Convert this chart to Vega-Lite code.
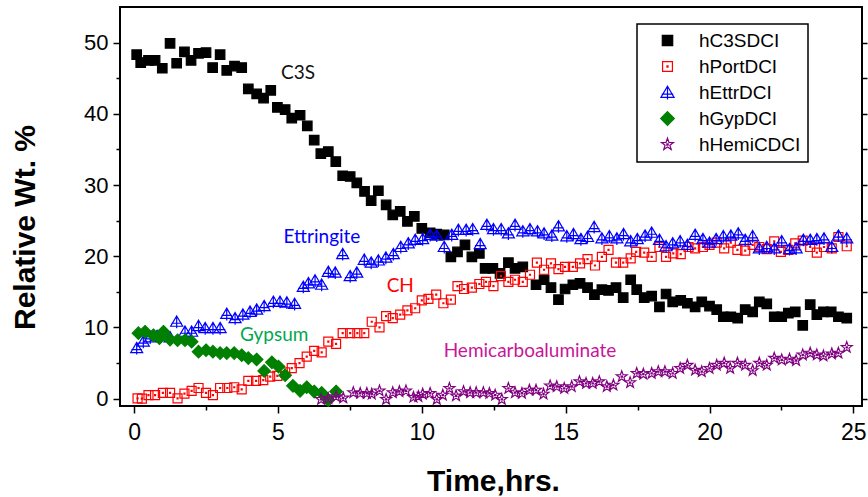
{
  "$schema": "https://vega.github.io/schema/vega-lite/v6.json",
  "width": 742,
  "height": 399,
  "autosize": {"type": "none"},
  "padding": {"left": 120, "top": 7, "right": 6, "bottom": 91},
  "background": "white",
  "config": {
    "view": {"stroke": "#000", "strokeWidth": 2},
    "font": "Liberation Sans",
    "axis": {"domain": false, "grid": false, "tickColor": "#000", "tickWidth": 1.5, "labelColor": "#000", "titleColor": "#000", "labelFont": "Liberation Sans", "titleFont": "Liberation Sans"},
    "legend": {"strokeWidth": 1.5}
  },
  "resolve": {"axis": {"y": "independent"}},
  "layer": [
    {
      "data": {"values": [
        {"series":"hC3SDCI","time":0.09,"wt":48.3},{"series":"hC3SDCI","time":0.23,"wt":47.2},{"series":"hC3SDCI","time":0.5,"wt":47.5},{"series":"hC3SDCI","time":0.73,"wt":47.5},{"series":"hC3SDCI","time":0.98,"wt":46.4},{"series":"hC3SDCI","time":1.25,"wt":49.9},{"series":"hC3SDCI","time":1.48,"wt":47.1},{"series":"hC3SDCI","time":1.75,"wt":48.7},{"series":"hC3SDCI","time":1.98,"wt":47.5},{"series":"hC3SDCI","time":2.24,"wt":48.5},{"series":"hC3SDCI","time":2.5,"wt":48.6},{"series":"hC3SDCI","time":2.73,"wt":46.5},{"series":"hC3SDCI","time":2.99,"wt":48.3},{"series":"hC3SDCI","time":3.22,"wt":46.1},{"series":"hC3SDCI","time":3.49,"wt":46.7},{"series":"hC3SDCI","time":3.74,"wt":46.5},{"series":"hC3SDCI","time":3.97,"wt":43.5},{"series":"hC3SDCI","time":4.26,"wt":42.8},{"series":"hC3SDCI","time":4.5,"wt":42.2},{"series":"hC3SDCI","time":4.75,"wt":43.3},{"series":"hC3SDCI","time":4.98,"wt":40.9},{"series":"hC3SDCI","time":5.25,"wt":40.6},{"series":"hC3SDCI","time":5.48,"wt":39.4},{"series":"hC3SDCI","time":5.77,"wt":39.8},{"series":"hC3SDCI","time":6.02,"wt":38.3},{"series":"hC3SDCI","time":6.26,"wt":36.3},{"series":"hC3SDCI","time":6.49,"wt":34.4},{"series":"hC3SDCI","time":6.75,"wt":34.7},{"series":"hC3SDCI","time":7.01,"wt":33.3},{"series":"hC3SDCI","time":7.25,"wt":31.3},{"series":"hC3SDCI","time":7.51,"wt":31.2},{"series":"hC3SDCI","time":7.74,"wt":30.3},{"series":"hC3SDCI","time":8.01,"wt":29.1},{"series":"hC3SDCI","time":8.24,"wt":27.8},{"series":"hC3SDCI","time":8.49,"wt":29.2},{"series":"hC3SDCI","time":8.76,"wt":27.2},{"series":"hC3SDCI","time":8.99,"wt":25.8},{"series":"hC3SDCI","time":9.25,"wt":26.3},{"series":"hC3SDCI","time":9.5,"wt":24.9},{"series":"hC3SDCI","time":9.74,"wt":25.6},{"series":"hC3SDCI","time":10.0,"wt":23.9},{"series":"hC3SDCI","time":10.29,"wt":23.3},{"series":"hC3SDCI","time":10.52,"wt":23.1},{"series":"hC3SDCI","time":10.78,"wt":23.0},{"series":"hC3SDCI","time":11.01,"wt":19.9},{"series":"hC3SDCI","time":11.24,"wt":20.6},{"series":"hC3SDCI","time":11.5,"wt":21.6},{"series":"hC3SDCI","time":11.74,"wt":19.9},{"series":"hC3SDCI","time":12.0,"wt":20.4},{"series":"hC3SDCI","time":12.2,"wt":18.3},{"series":"hC3SDCI","time":12.47,"wt":18.3},{"series":"hC3SDCI","time":12.72,"wt":17.6},{"series":"hC3SDCI","time":13.01,"wt":19.1},{"series":"hC3SDCI","time":13.24,"wt":18.3},{"series":"hC3SDCI","time":13.51,"wt":18.5},{"series":"hC3SDCI","time":13.97,"wt":16.0},{"series":"hC3SDCI","time":14.25,"wt":16.7},{"series":"hC3SDCI","time":14.49,"wt":15.6},{"series":"hC3SDCI","time":14.75,"wt":13.9},{"series":"hC3SDCI","time":14.98,"wt":15.4},{"series":"hC3SDCI","time":15.25,"wt":16.0},{"series":"hC3SDCI","time":15.5,"wt":16.2},{"series":"hC3SDCI","time":15.76,"wt":15.6},{"series":"hC3SDCI","time":16.0,"wt":14.6},{"series":"hC3SDCI","time":16.26,"wt":15.3},{"series":"hC3SDCI","time":16.49,"wt":15.2},{"series":"hC3SDCI","time":16.75,"wt":15.6},{"series":"hC3SDCI","time":17.0,"wt":14.2},{"series":"hC3SDCI","time":17.26,"wt":16.7},{"series":"hC3SDCI","time":17.47,"wt":15.3},{"series":"hC3SDCI","time":17.73,"wt":14.2},{"series":"hC3SDCI","time":17.99,"wt":14.4},{"series":"hC3SDCI","time":18.26,"wt":12.9},{"series":"hC3SDCI","time":18.49,"wt":14.7},{"series":"hC3SDCI","time":18.72,"wt":13.6},{"series":"hC3SDCI","time":19.0,"wt":13.8},{"series":"hC3SDCI","time":19.23,"wt":13.4},{"series":"hC3SDCI","time":19.5,"wt":12.9},{"series":"hC3SDCI","time":19.73,"wt":13.6},{"series":"hC3SDCI","time":20.0,"wt":13.0},{"series":"hC3SDCI","time":20.25,"wt":12.5},{"series":"hC3SDCI","time":20.48,"wt":11.5},{"series":"hC3SDCI","time":20.74,"wt":11.5},{"series":"hC3SDCI","time":20.98,"wt":11.3},{"series":"hC3SDCI","time":21.24,"wt":12.5},{"series":"hC3SDCI","time":21.5,"wt":12.2},{"series":"hC3SDCI","time":21.73,"wt":13.6},{"series":"hC3SDCI","time":21.99,"wt":13.3},{"series":"hC3SDCI","time":22.25,"wt":11.5},{"series":"hC3SDCI","time":22.51,"wt":11.5},{"series":"hC3SDCI","time":22.74,"wt":12.0},{"series":"hC3SDCI","time":22.98,"wt":12.2},{"series":"hC3SDCI","time":23.24,"wt":10.3},{"series":"hC3SDCI","time":23.5,"wt":13.2},{"series":"hC3SDCI","time":23.73,"wt":11.8},{"series":"hC3SDCI","time":23.96,"wt":12.2},{"series":"hC3SDCI","time":24.23,"wt":12.2},{"series":"hC3SDCI","time":24.48,"wt":11.5},{"series":"hC3SDCI","time":24.77,"wt":11.3},
        {"series":"hPortDCI","time":0.12,"wt":0.05},{"series":"hPortDCI","time":0.27,"wt":0.0},{"series":"hPortDCI","time":0.5,"wt":0.5},{"series":"hPortDCI","time":0.73,"wt":0.5},{"series":"hPortDCI","time":1.0,"wt":0.8},{"series":"hPortDCI","time":1.25,"wt":0.8},{"series":"hPortDCI","time":1.51,"wt":0.05},{"series":"hPortDCI","time":1.75,"wt":0.7},{"series":"hPortDCI","time":2.0,"wt":1.1},{"series":"hPortDCI","time":2.24,"wt":1.5},{"series":"hPortDCI","time":2.5,"wt":0.8},{"series":"hPortDCI","time":2.74,"wt":0.5},{"series":"hPortDCI","time":2.99,"wt":1.5},{"series":"hPortDCI","time":3.24,"wt":1.5},{"series":"hPortDCI","time":3.48,"wt":1.6},{"series":"hPortDCI","time":3.74,"wt":1.3},{"series":"hPortDCI","time":3.97,"wt":2.5},{"series":"hPortDCI","time":4.24,"wt":2.5},{"series":"hPortDCI","time":4.49,"wt":2.6},{"series":"hPortDCI","time":4.73,"wt":3.1},{"series":"hPortDCI","time":4.98,"wt":3.2},{"series":"hPortDCI","time":5.25,"wt":3.7},{"series":"hPortDCI","time":5.48,"wt":4.3},{"series":"hPortDCI","time":5.75,"wt":5.0},{"series":"hPortDCI","time":6.0,"wt":5.9},{"series":"hPortDCI","time":6.26,"wt":6.7},{"series":"hPortDCI","time":6.52,"wt":6.5},{"series":"hPortDCI","time":6.75,"wt":8.0},{"series":"hPortDCI","time":7.02,"wt":7.7},{"series":"hPortDCI","time":7.25,"wt":9.2},{"series":"hPortDCI","time":7.51,"wt":9.2},{"series":"hPortDCI","time":7.76,"wt":9.2},{"series":"hPortDCI","time":8.0,"wt":9.2},{"series":"hPortDCI","time":8.26,"wt":10.8},{"series":"hPortDCI","time":8.53,"wt":10.0},{"series":"hPortDCI","time":8.76,"wt":11.6},{"series":"hPortDCI","time":8.99,"wt":11.3},{"series":"hPortDCI","time":9.25,"wt":11.8},{"series":"hPortDCI","time":9.5,"wt":12.4},{"series":"hPortDCI","time":9.77,"wt":12.7},{"series":"hPortDCI","time":10.0,"wt":13.8},{"series":"hPortDCI","time":10.23,"wt":14.0},{"series":"hPortDCI","time":10.5,"wt":14.6},{"series":"hPortDCI","time":10.75,"wt":13.4},{"series":"hPortDCI","time":11.01,"wt":13.9},{"series":"hPortDCI","time":11.24,"wt":15.8},{"series":"hPortDCI","time":11.47,"wt":15.4},{"series":"hPortDCI","time":11.74,"wt":15.6},{"series":"hPortDCI","time":12.0,"wt":16.1},{"series":"hPortDCI","time":12.23,"wt":16.4},{"series":"hPortDCI","time":12.49,"wt":15.8},{"series":"hPortDCI","time":12.75,"wt":17.2},{"series":"hPortDCI","time":13.01,"wt":16.4},{"series":"hPortDCI","time":13.24,"wt":16.7},{"series":"hPortDCI","time":13.51,"wt":16.4},{"series":"hPortDCI","time":13.76,"wt":17.4},{"series":"hPortDCI","time":14.0,"wt":19.1},{"series":"hPortDCI","time":14.25,"wt":18.1},{"series":"hPortDCI","time":14.49,"wt":19.0},{"series":"hPortDCI","time":14.75,"wt":18.2},{"series":"hPortDCI","time":14.98,"wt":18.5},{"series":"hPortDCI","time":15.25,"wt":18.5},{"series":"hPortDCI","time":15.5,"wt":19.0},{"series":"hPortDCI","time":15.76,"wt":19.6},{"series":"hPortDCI","time":16.02,"wt":18.7},{"series":"hPortDCI","time":16.26,"wt":19.9},{"series":"hPortDCI","time":16.49,"wt":20.9},{"series":"hPortDCI","time":16.75,"wt":19.1},{"series":"hPortDCI","time":17.0,"wt":19.1},{"series":"hPortDCI","time":17.26,"wt":19.7},{"series":"hPortDCI","time":17.45,"wt":20.6},{"series":"hPortDCI","time":17.73,"wt":20.5},{"series":"hPortDCI","time":17.99,"wt":19.9},{"series":"hPortDCI","time":18.26,"wt":21.3},{"series":"hPortDCI","time":18.49,"wt":19.9},{"series":"hPortDCI","time":18.74,"wt":20.4},{"series":"hPortDCI","time":19.0,"wt":20.3},{"series":"hPortDCI","time":19.27,"wt":21.3},{"series":"hPortDCI","time":19.5,"wt":21.1},{"series":"hPortDCI","time":19.77,"wt":21.3},{"series":"hPortDCI","time":20.0,"wt":21.6},{"series":"hPortDCI","time":20.25,"wt":21.9},{"series":"hPortDCI","time":20.51,"wt":21.1},{"series":"hPortDCI","time":20.74,"wt":21.9},{"series":"hPortDCI","time":20.97,"wt":20.9},{"series":"hPortDCI","time":21.24,"wt":20.8},{"series":"hPortDCI","time":21.5,"wt":21.6},{"series":"hPortDCI","time":21.73,"wt":21.3},{"series":"hPortDCI","time":21.99,"wt":21.0},{"series":"hPortDCI","time":22.25,"wt":22.1},{"series":"hPortDCI","time":22.48,"wt":20.6},{"series":"hPortDCI","time":22.74,"wt":20.9},{"series":"hPortDCI","time":22.98,"wt":21.8},{"series":"hPortDCI","time":23.24,"wt":22.2},{"series":"hPortDCI","time":23.5,"wt":21.3},{"series":"hPortDCI","time":23.73,"wt":20.5},{"series":"hPortDCI","time":23.98,"wt":21.3},{"series":"hPortDCI","time":24.25,"wt":21.1},{"series":"hPortDCI","time":24.48,"wt":22.7},{"series":"hPortDCI","time":24.77,"wt":21.4},
        {"series":"hEttrDCI","time":0.09,"wt":7.1},{"series":"hEttrDCI","time":0.32,"wt":8.0},{"series":"hEttrDCI","time":0.56,"wt":8.6},{"series":"hEttrDCI","time":0.8,"wt":8.8},{"series":"hEttrDCI","time":1.03,"wt":9.0},{"series":"hEttrDCI","time":1.25,"wt":8.6},{"series":"hEttrDCI","time":1.48,"wt":10.8},{"series":"hEttrDCI","time":1.77,"wt":9.4},{"series":"hEttrDCI","time":2.0,"wt":9.4},{"series":"hEttrDCI","time":2.24,"wt":10.2},{"series":"hEttrDCI","time":2.47,"wt":9.9},{"series":"hEttrDCI","time":2.74,"wt":9.9},{"series":"hEttrDCI","time":2.99,"wt":9.9},{"series":"hEttrDCI","time":3.22,"wt":11.9},{"series":"hEttrDCI","time":3.51,"wt":11.3},{"series":"hEttrDCI","time":3.78,"wt":11.8},{"series":"hEttrDCI","time":4.03,"wt":12.2},{"series":"hEttrDCI","time":4.26,"wt":12.5},{"series":"hEttrDCI","time":4.52,"wt":13.0},{"series":"hEttrDCI","time":4.84,"wt":13.6},{"series":"hEttrDCI","time":5.07,"wt":13.6},{"series":"hEttrDCI","time":5.31,"wt":13.5},{"series":"hEttrDCI","time":5.58,"wt":13.3},{"series":"hEttrDCI","time":5.88,"wt":15.7},{"series":"hEttrDCI","time":6.06,"wt":16.2},{"series":"hEttrDCI","time":6.29,"wt":16.6},{"series":"hEttrDCI","time":6.52,"wt":16.0},{"series":"hEttrDCI","time":6.75,"wt":17.8},{"series":"hEttrDCI","time":6.99,"wt":17.7},{"series":"hEttrDCI","time":7.25,"wt":20.3},{"series":"hEttrDCI","time":7.51,"wt":17.2},{"series":"hEttrDCI","time":7.74,"wt":17.7},{"series":"hEttrDCI","time":8.0,"wt":19.5},{"series":"hEttrDCI","time":8.24,"wt":19.1},{"series":"hEttrDCI","time":8.49,"wt":19.4},{"series":"hEttrDCI","time":8.75,"wt":19.8},{"series":"hEttrDCI","time":9.01,"wt":20.3},{"series":"hEttrDCI","time":9.27,"wt":21.3},{"series":"hEttrDCI","time":9.53,"wt":21.8},{"series":"hEttrDCI","time":9.77,"wt":22.3},{"series":"hEttrDCI","time":10.03,"wt":22.4},{"series":"hEttrDCI","time":10.29,"wt":23.0},{"series":"hEttrDCI","time":10.52,"wt":22.9},{"series":"hEttrDCI","time":10.78,"wt":21.3},{"series":"hEttrDCI","time":11.04,"wt":23.0},{"series":"hEttrDCI","time":11.27,"wt":23.7},{"series":"hEttrDCI","time":11.54,"wt":23.7},{"series":"hEttrDCI","time":11.77,"wt":23.8},{"series":"hEttrDCI","time":12.03,"wt":21.7},{"series":"hEttrDCI","time":12.26,"wt":24.4},{"series":"hEttrDCI","time":12.49,"wt":23.8},{"series":"hEttrDCI","time":12.76,"wt":23.8},{"series":"hEttrDCI","time":13.01,"wt":23.2},{"series":"hEttrDCI","time":13.24,"wt":24.4},{"series":"hEttrDCI","time":13.51,"wt":23.5},{"series":"hEttrDCI","time":13.76,"wt":23.8},{"series":"hEttrDCI","time":14.02,"wt":23.5},{"series":"hEttrDCI","time":14.25,"wt":23.2},{"series":"hEttrDCI","time":14.52,"wt":22.9},{"series":"hEttrDCI","time":14.75,"wt":24.2},{"series":"hEttrDCI","time":15.04,"wt":22.8},{"series":"hEttrDCI","time":15.27,"wt":23.1},{"series":"hEttrDCI","time":15.53,"wt":22.4},{"series":"hEttrDCI","time":15.76,"wt":22.7},{"series":"hEttrDCI","time":15.99,"wt":24.1},{"series":"hEttrDCI","time":16.26,"wt":22.5},{"series":"hEttrDCI","time":16.52,"wt":22.8},{"series":"hEttrDCI","time":16.78,"wt":22.5},{"series":"hEttrDCI","time":17.01,"wt":23.1},{"series":"hEttrDCI","time":17.26,"wt":22.1},{"series":"hEttrDCI","time":17.49,"wt":22.4},{"series":"hEttrDCI","time":17.76,"wt":22.9},{"series":"hEttrDCI","time":17.99,"wt":23.3},{"series":"hEttrDCI","time":18.26,"wt":22.3},{"series":"hEttrDCI","time":18.49,"wt":21.4},{"series":"hEttrDCI","time":18.72,"wt":21.8},{"series":"hEttrDCI","time":18.98,"wt":22.1},{"series":"hEttrDCI","time":19.23,"wt":21.6},{"series":"hEttrDCI","time":19.5,"wt":23.0},{"series":"hEttrDCI","time":19.77,"wt":22.4},{"series":"hEttrDCI","time":20.0,"wt":21.9},{"series":"hEttrDCI","time":20.23,"wt":22.4},{"series":"hEttrDCI","time":20.48,"wt":22.8},{"series":"hEttrDCI","time":20.74,"wt":22.9},{"series":"hEttrDCI","time":21.0,"wt":23.2},{"series":"hEttrDCI","time":21.24,"wt":22.3},{"series":"hEttrDCI","time":21.5,"wt":22.8},{"series":"hEttrDCI","time":21.73,"wt":21.1},{"series":"hEttrDCI","time":21.99,"wt":21.3},{"series":"hEttrDCI","time":22.25,"wt":21.1},{"series":"hEttrDCI","time":22.51,"wt":22.1},{"series":"hEttrDCI","time":22.78,"wt":21.0},{"series":"hEttrDCI","time":23.01,"wt":21.1},{"series":"hEttrDCI","time":23.26,"wt":22.3},{"series":"hEttrDCI","time":23.5,"wt":22.3},{"series":"hEttrDCI","time":23.73,"wt":22.4},{"series":"hEttrDCI","time":23.98,"wt":22.5},{"series":"hEttrDCI","time":24.25,"wt":21.3},{"series":"hEttrDCI","time":24.48,"wt":22.9},{"series":"hEttrDCI","time":24.77,"wt":22.5},
        {"series":"hGypDCI","time":0.15,"wt":9.2},{"series":"hGypDCI","time":0.38,"wt":9.4},{"series":"hGypDCI","time":0.67,"wt":8.9},{"series":"hGypDCI","time":0.88,"wt":8.5},{"series":"hGypDCI","time":1.02,"wt":9.4},{"series":"hGypDCI","time":1.25,"wt":8.3},{"series":"hGypDCI","time":1.51,"wt":8.2},{"series":"hGypDCI","time":1.77,"wt":8.2},{"series":"hGypDCI","time":2.0,"wt":8.0},{"series":"hGypDCI","time":2.24,"wt":6.6},{"series":"hGypDCI","time":2.5,"wt":6.8},{"series":"hGypDCI","time":2.74,"wt":6.6},{"series":"hGypDCI","time":2.99,"wt":6.4},{"series":"hGypDCI","time":3.22,"wt":6.4},{"series":"hGypDCI","time":3.48,"wt":6.4},{"series":"hGypDCI","time":3.74,"wt":6.1},{"series":"hGypDCI","time":3.97,"wt":5.7},{"series":"hGypDCI","time":4.26,"wt":5.5},{"series":"hGypDCI","time":4.52,"wt":3.9},{"series":"hGypDCI","time":4.79,"wt":5.1},{"series":"hGypDCI","time":5.02,"wt":4.5},{"series":"hGypDCI","time":5.25,"wt":3.3},{"series":"hGypDCI","time":5.52,"wt":1.8},{"series":"hGypDCI","time":5.77,"wt":1.1},{"series":"hGypDCI","time":6.0,"wt":1.6},{"series":"hGypDCI","time":6.26,"wt":1.0},{"series":"hGypDCI","time":6.52,"wt":0.8},{"series":"hGypDCI","time":6.75,"wt":-0.2},{"series":"hGypDCI","time":7.02,"wt":1.0},
        {"series":"hHemiCDCI","time":6.5,"wt":-0.1},{"series":"hHemiCDCI","time":6.75,"wt":0.0},{"series":"hHemiCDCI","time":7.02,"wt":0.3},{"series":"hHemiCDCI","time":7.27,"wt":0.1},{"series":"hHemiCDCI","time":7.62,"wt":0.85},{"series":"hHemiCDCI","time":7.86,"wt":0.75},{"series":"hHemiCDCI","time":8.09,"wt":0.75},{"series":"hHemiCDCI","time":8.26,"wt":0.65},{"series":"hHemiCDCI","time":8.53,"wt":1.1},{"series":"hHemiCDCI","time":8.76,"wt":-0.1},{"series":"hHemiCDCI","time":8.99,"wt":0.85},{"series":"hHemiCDCI","time":9.22,"wt":1.0},{"series":"hHemiCDCI","time":9.45,"wt":1.1},{"series":"hHemiCDCI","time":9.71,"wt":0.2},{"series":"hHemiCDCI","time":9.88,"wt":0.3},{"series":"hHemiCDCI","time":10.03,"wt":0.65},{"series":"hHemiCDCI","time":10.29,"wt":0.75},{"series":"hHemiCDCI","time":10.52,"wt":-0.1},{"series":"hHemiCDCI","time":10.73,"wt":0.5},{"series":"hHemiCDCI","time":10.96,"wt":1.45},{"series":"hHemiCDCI","time":11.19,"wt":0.4},{"series":"hHemiCDCI","time":11.45,"wt":1.0},{"series":"hHemiCDCI","time":11.68,"wt":0.85},{"series":"hHemiCDCI","time":11.89,"wt":0.85},{"series":"hHemiCDCI","time":12.14,"wt":0.85},{"series":"hHemiCDCI","time":12.35,"wt":0.75},{"series":"hHemiCDCI","time":12.55,"wt":0.5},{"series":"hHemiCDCI","time":12.78,"wt":-0.1},{"series":"hHemiCDCI","time":13.01,"wt":1.45},{"series":"hHemiCDCI","time":13.24,"wt":0.85},{"series":"hHemiCDCI","time":13.48,"wt":0.75},{"series":"hHemiCDCI","time":13.74,"wt":1.2},{"series":"hHemiCDCI","time":13.97,"wt":1.2},{"series":"hHemiCDCI","time":14.23,"wt":0.65},{"series":"hHemiCDCI","time":14.46,"wt":1.8},{"series":"hHemiCDCI","time":14.69,"wt":1.7},{"series":"hHemiCDCI","time":14.95,"wt":1.45},{"series":"hHemiCDCI","time":15.21,"wt":1.7},{"series":"hHemiCDCI","time":15.48,"wt":2.4},{"series":"hHemiCDCI","time":15.71,"wt":2.15},{"series":"hHemiCDCI","time":15.94,"wt":2.15},{"series":"hHemiCDCI","time":16.17,"wt":2.4},{"series":"hHemiCDCI","time":16.43,"wt":1.7},{"series":"hHemiCDCI","time":16.66,"wt":1.9},{"series":"hHemiCDCI","time":16.95,"wt":3.1},{"series":"hHemiCDCI","time":17.24,"wt":2.25},{"series":"hHemiCDCI","time":17.47,"wt":3.55},{"series":"hHemiCDCI","time":17.7,"wt":3.45},{"series":"hHemiCDCI","time":17.99,"wt":3.55},{"series":"hHemiCDCI","time":18.22,"wt":3.8},{"series":"hHemiCDCI","time":18.45,"wt":3.8},{"series":"hHemiCDCI","time":18.72,"wt":3.55},{"series":"hHemiCDCI","time":18.98,"wt":4.25},{"series":"hHemiCDCI","time":19.23,"wt":4.7},{"series":"hHemiCDCI","time":19.5,"wt":4.0},{"series":"hHemiCDCI","time":19.73,"wt":3.8},{"series":"hHemiCDCI","time":20.0,"wt":4.25},{"series":"hHemiCDCI","time":20.25,"wt":4.7},{"series":"hHemiCDCI","time":20.51,"wt":5.0},{"series":"hHemiCDCI","time":20.72,"wt":4.25},{"series":"hHemiCDCI","time":20.97,"wt":5.0},{"series":"hHemiCDCI","time":21.24,"wt":4.7},{"series":"hHemiCDCI","time":21.5,"wt":3.95},{"series":"hHemiCDCI","time":21.73,"wt":5.0},{"series":"hHemiCDCI","time":21.99,"wt":4.7},{"series":"hHemiCDCI","time":22.25,"wt":5.7},{"series":"hHemiCDCI","time":22.51,"wt":5.45},{"series":"hHemiCDCI","time":22.78,"wt":5.55},{"series":"hHemiCDCI","time":23.01,"wt":5.35},{"series":"hHemiCDCI","time":23.24,"wt":6.15},{"series":"hHemiCDCI","time":23.5,"wt":6.4},{"series":"hHemiCDCI","time":23.73,"wt":6.15},{"series":"hHemiCDCI","time":23.96,"wt":6.0},{"series":"hHemiCDCI","time":24.25,"wt":6.3},{"series":"hHemiCDCI","time":24.48,"wt":6.4},{"series":"hHemiCDCI","time":24.77,"wt":7.2}
      ]},
      "mark": {"type": "point", "opacity": 1, "strokeWidth": 1.2, "size": 100},
      "encoding": {
        "x": {
          "field": "time", "type": "quantitative",
          "scale": {"domain": [-0.49, 25.3], "nice": false, "zero": false},
          "axis": {
            "values": [0, 2.5, 5, 7.5, 10, 12.5, 15, 17.5, 20, 22.5, 25],
            "labelExpr": "datum.value % 5 === 0 ? format(datum.value, 'd') : ''",
            "tickSize": {"condition": {"test": "datum.value % 5 === 0", "value": 7}, "value": 4},
            "labelFontSize": 23, "labelPadding": 8, "labelFlush": false, "labelOverlap": false,
            "title": "Time,hrs.", "titleFontSize": 30, "titleFontWeight": "bold",
            "titleX": 373, "titleY": 84, "titleBaseline": "alphabetic"
          }
        },
        "y": {
          "field": "wt", "type": "quantitative",
          "scale": {"domain": [-1.03, 55], "nice": false, "zero": false},
          "axis": {
            "values": [0, 5, 10, 15, 20, 25, 30, 35, 40, 45, 50],
            "labelExpr": "datum.value % 10 === 0 ? format(datum.value, 'd') : ''",
            "tickSize": {"condition": {"test": "datum.value % 10 === 0", "value": 7}, "value": 4},
            "labelFontSize": 22, "labelPadding": 5, "labelOverlap": false,
            "title": "Relative Wt. %", "titleFontSize": 30, "titleFontWeight": "bold",
            "titleX": -86, "titleY": 220, "titleBaseline": "alphabetic", "titleAngle": 270
          }
        },
        "shape": {
          "field": "series", "type": "nominal",
          "scale": {
            "domain": ["hC3SDCI", "hPortDCI", "hEttrDCI", "hGypDCI", "hHemiCDCI"],
            "range": [
              "M-0.95,-0.95H0.95V0.95H-0.95Z",
              "M-0.9,-0.9H0.9V0.9H-0.9ZM-0.1,-0.1H0.1V0.1H-0.1Z",
              "M0,-1.15L1.2,0.9L-1.2,0.9ZM0,-1.15V1.3M-1.05,0.3H1.05",
              "M0,-1.25L1.25,0L0,1.25L-1.25,0Z",
              "M0,-1.15L0.27,-0.373L1.094,-0.355L0.437,0.143L0.676,0.93L0,0.46L-0.676,0.93L-0.437,0.143L-1.094,-0.355L-0.27,-0.373ZM-0.12,-0.12H0.12V0.12H-0.12Z"
            ]
          },
          "legend": {
            "orient": "none", "legendX": 517, "legendY": 17, "title": null,
            "strokeColor": "#000", "fillColor": "#fff", "padding": 7, "rowPadding": 6,
            "symbolOffset": 14, "labelOffset": 22, "labelFont": "Liberation Sans", "labelFontSize": 19,
            "labelColor": "#000", "symbolSize": 120, "symbolStrokeWidth": 1.2, "symbolOpacity": 1
          }
        },
        "stroke": {
          "field": "series", "type": "nominal",
          "scale": {"domain": ["hC3SDCI", "hPortDCI", "hEttrDCI", "hGypDCI", "hHemiCDCI"], "range": ["#000000", "#ff0000", "#0000ff", "#008000", "#800080"]}
        },
        "fill": {
          "field": "series", "type": "nominal",
          "scale": {"domain": ["hC3SDCI", "hPortDCI", "hEttrDCI", "hGypDCI", "hHemiCDCI"], "range": ["#000000", "transparent", "transparent", "#008000", "transparent"]}
        }
      }
    },
    {
      "data": {"values": [
        {"label": "C3S", "time": 5.7, "wt": 45.7},
        {"label": "Ettringite", "time": 6.53, "wt": 22.7},
        {"label": "CH", "time": 9.25, "wt": 15.8},
        {"label": "Gypsum", "time": 4.87, "wt": 8.95},
        {"label": "Hemicarboaluminate", "time": 13.76, "wt": 6.7}
      ]},
      "mark": {"type": "text", "font": "Lato", "fontSize": 19, "align": "center", "baseline": "middle"},
      "encoding": {
        "x": {"field": "time", "type": "quantitative"},
        "y": {
          "field": "wt", "type": "quantitative",
          "axis": {"orient": "right", "values": [0, 5, 10, 15, 20, 25, 30, 35, 40, 45, 50], "labels": false, "title": null, "tickSize": 5}
        },
        "text": {"field": "label"},
        "color": {
          "field": "label", "type": "nominal",
          "scale": {"domain": ["C3S", "Ettringite", "CH", "Gypsum", "Hemicarboaluminate"], "range": ["#111111", "#0000ff", "#ff0000", "#00a84f", "#c8169a"]},
          "legend": null
        }
      }
    }
  ]
}
